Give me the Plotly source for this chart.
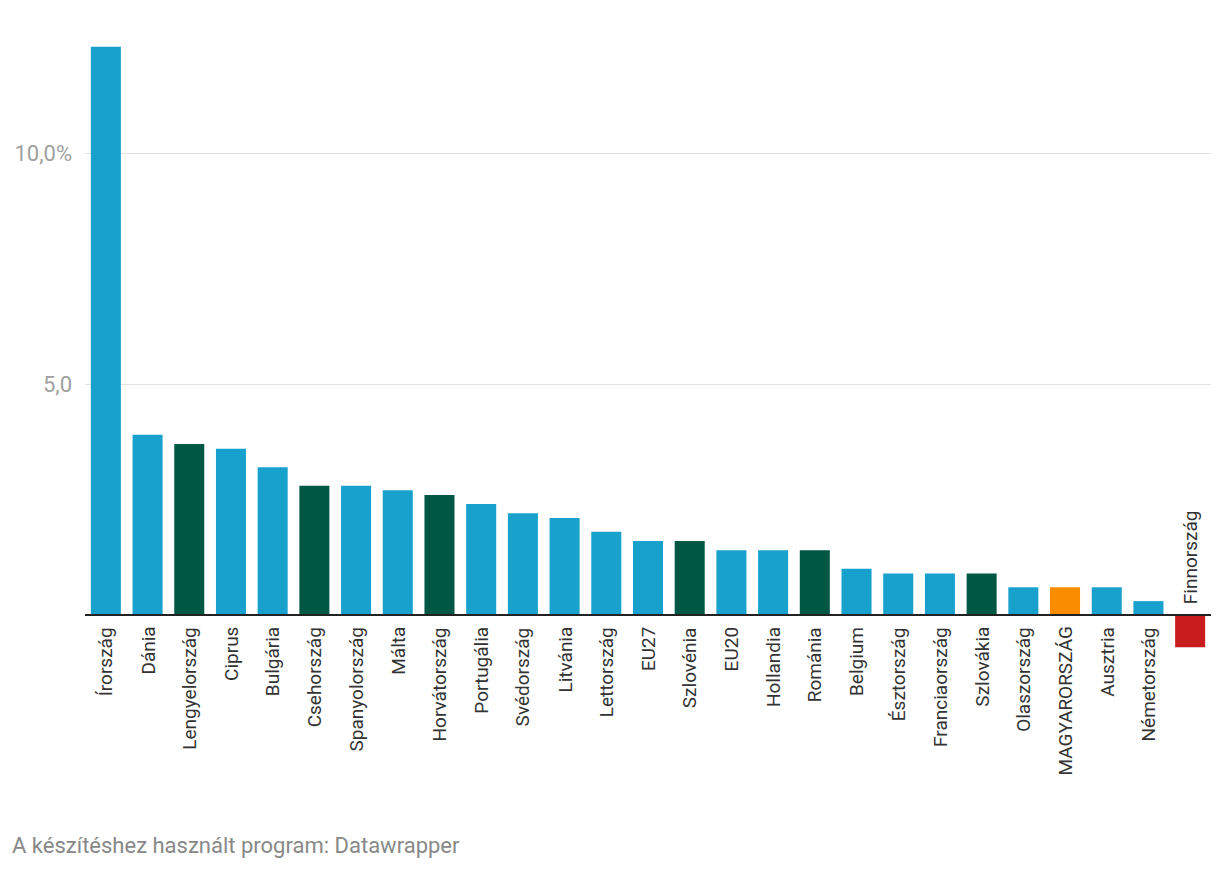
import plotly.graph_objects as go

categories = ["Írország", "Dánia", "Lengyelország", "Ciprus", "Bulgária", "Csehország",
              "Spanyolország", "Málta", "Horvátország", "Portugália", "Svédország",
              "Litvánia", "Lettország", "EU27", "Szlovénia", "EU20", "Hollandia",
              "Románia", "Belgium", "Észtország", "Franciaország", "Szlovákia",
              "Olaszország", "MAGYARORSZÁG", "Ausztria", "Németország", "Finnország"]
values = [12.3, 3.9, 3.7, 3.6, 3.2, 2.8, 2.8, 2.7, 2.6, 2.4, 2.2, 2.1, 1.8, 1.6, 1.6,
          1.4, 1.4, 1.4, 1.0, 0.9, 0.9, 0.9, 0.6, 0.6, 0.6, 0.3, -0.7]
groups = ["egyéb", "egyéb", "régió", "egyéb", "egyéb", "régió", "egyéb", "egyéb", "régió",
          "egyéb", "egyéb", "egyéb", "egyéb", "egyéb", "régió", "egyéb", "egyéb", "régió",
          "egyéb", "egyéb", "egyéb", "régió", "egyéb", "hu", "egyéb", "egyéb", "negatív"]
y_tickvals = [5, 10]
y_ticktext = ["5,0", "10,0%"]
footer = "A készítéshez használt program: Datawrapper"

color_map = {"egyéb": "#18a1cd", "régió": "#005744", "hu": "#fa8c00", "negatív": "#c71e1d"}
colors = [color_map[g] for g in groups]

fig = go.Figure()
fig.add_trace(go.Bar(x=categories, y=values, marker=dict(color=colors, line=dict(width=0)),
                     hoverinfo="skip"))

# page has an 8px body margin; figure starts at (8, 8)
OFF = 8
W, H = 1220 - 2 * OFF, 870 - 2 * OFF
ml, mr, mt = 85 - OFF, W - (1211 - OFF), 40 - OFF
plot_bottom = 660 - OFF
mb = H - plot_bottom
plot_h = H - mt - mb
ppu = 46.2
ymax = (615 - 40) / ppu
ymin = (615 - 660) / ppu

for c, v in zip(categories, values):
    fig.add_annotation(x=c, y=0, xref="x", yref="y", text=c, showarrow=False,
                       textangle=-90, yanchor="top" if v >= 0 else "bottom",
                       yshift=-10 if v >= 0 else 9,
                       font=dict(family="Roboto", size=19, color="#333333"))

fig.add_shape(type="line", xref="paper", x0=0, x1=1, yref="y", y0=0, y1=0,
              line=dict(color="#222222", width=2), layer="above")

plot_w = W - ml - mr
fig.add_annotation(text=footer, xref="paper", yref="paper",
                   x=(10 - OFF - ml) / plot_w, y=(plot_bottom - (845 - OFF)) / plot_h,
                   xanchor="left", yanchor="middle", showarrow=False,
                   font=dict(family="Roboto", size=22, color="#888888"))

fig.update_layout(
    width=W, height=H, autosize=False,
    margin=dict(l=ml, r=mr, t=mt, b=mb),
    paper_bgcolor="white", plot_bgcolor="white",
    bargap=0.28, showlegend=False,
    font=dict(family="Roboto"),
    xaxis=dict(showticklabels=False, showgrid=False, zeroline=False, showline=False,
               ticks="", fixedrange=True),
    yaxis=dict(range=[ymin, ymax], tickvals=y_tickvals, ticktext=y_ticktext,
               showgrid=True, gridcolor="#e3e3e3", gridwidth=1, zeroline=False,
               showline=False, ticks="", ticklabelstandoff=12,
               tickfont=dict(family="Roboto", size=22, color="#a0a0a0")),
)

fig.write_html("out.html")
